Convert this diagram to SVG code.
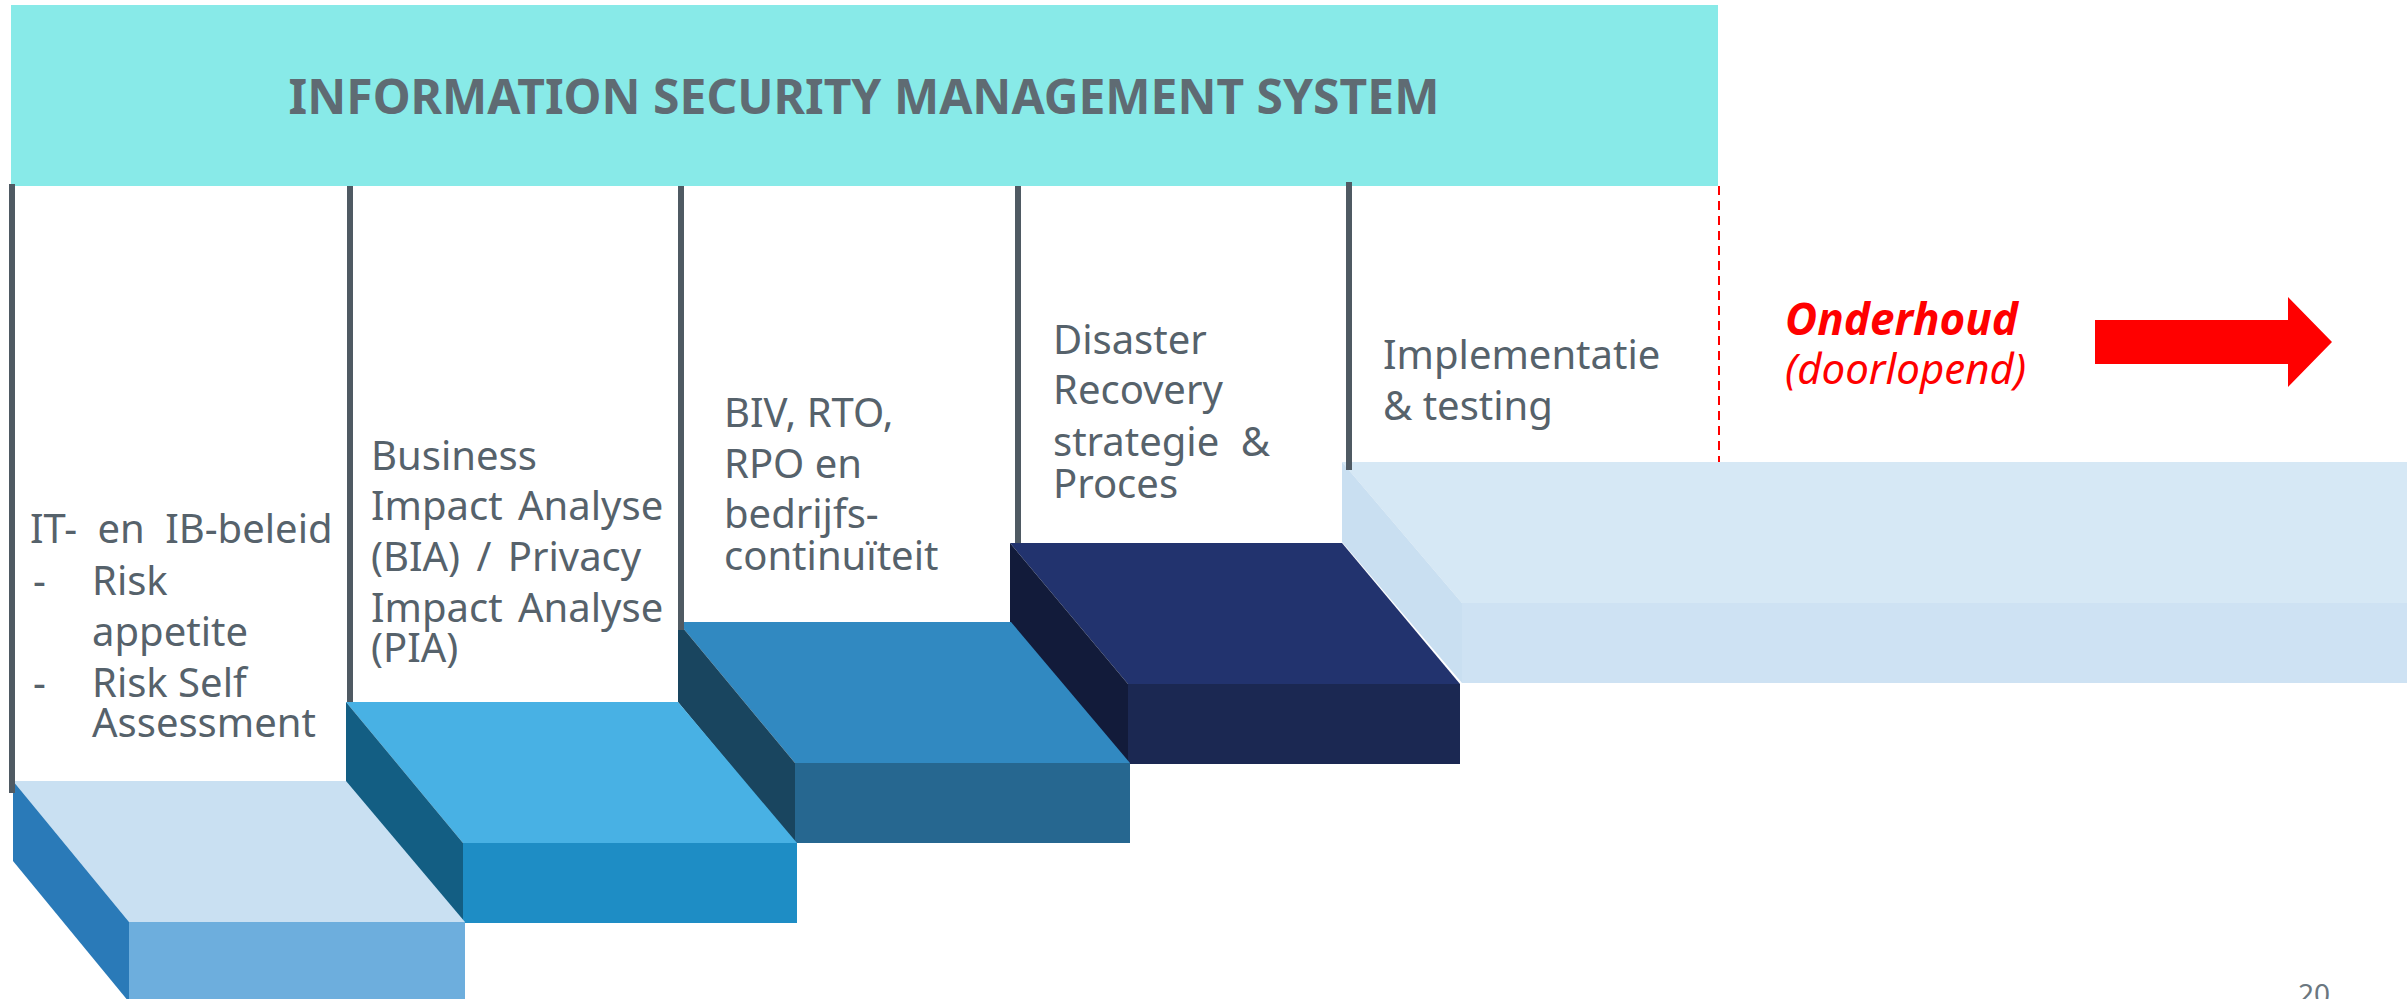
<svg xmlns="http://www.w3.org/2000/svg" width="2407" height="999" viewBox="0 0 2407 999">
<style>
.t{font-family:"Noto Sans","Open Sans","Liberation Sans",sans-serif;font-size:40px;fill:#56626B}
.h{font-family:"Noto Sans","Open Sans","Liberation Sans",sans-serif;font-size:48px;font-weight:bold;fill:#5F6B73}
.r{font-family:"Noto Sans","Open Sans","Liberation Sans",sans-serif;font-style:italic;fill:#FF0000}
.div{stroke:#4F5A63;stroke-width:6;fill:none}
</style>
<rect width="2407" height="999" fill="#FFFFFF"/>
<g id="header">
<rect x="11" y="5" width="1707" height="181" fill="#88EAE8"/>
<text class="h" x="864" y="114" text-anchor="middle">INFORMATION SECURITY MANAGEMENT SYSTEM</text>
</g>
<g id="step5">
<polygon points="1342,462 2407,462 2407,603 1462,603" fill="#D6E8F5"/>
<polygon points="1342,462 1462,603 1462,683 1342,542" fill="#C9DFF1"/>
<rect x="1462" y="603" width="945" height="80" fill="#CEE2F3"/>
<text class="t" x="1383" y="369">Implementatie</text>
<text class="t" x="1383" y="420">&amp; testing</text>
</g>
<g id="step4">
<polygon points="1010,543 1342,543 1460,684 1128,684" fill="#22336E"/>
<polygon points="1010,543 1128,684 1128,764 1010,623" fill="#121B3A"/>
<rect x="1128" y="684" width="332" height="80" fill="#1B2852"/>
<text class="t" x="1053" y="354">Disaster</text>
<text class="t" x="1053" y="404">Recovery</text>
<text class="t" x="1053" y="456" word-spacing="11">strategie &amp;</text>
<text class="t" x="1053" y="498">Proces</text>
</g>
<g id="step3">
<polygon points="678,622 1011,622 1130,763 795,763" fill="#3189C1"/>
<polygon points="678,622 795,763 795,843 678,702" fill="#19455F"/>
<rect x="795" y="763" width="335" height="80" fill="#266790"/>
<text class="t" x="724" y="427">BIV, RTO,</text>
<text class="t" x="724" y="478">RPO en</text>
<text class="t" x="724" y="528">bedrijfs-</text>
<text class="t" x="724" y="570">continuïteit</text>
</g>
<g id="step2">
<polygon points="346,702 678,702 797,843 463,843" fill="#48B1E4"/>
<polygon points="346,702 463,843 463,923 346,782" fill="#135E83"/>
<rect x="463" y="843" width="334" height="80" fill="#1E8DC5"/>
<text class="t" x="371" y="470">Business</text>
<text class="t" x="371" y="520" word-spacing="5">Impact Analyse</text>
<text class="t" x="371" y="571" word-spacing="6">(BIA) / Privacy</text>
<text class="t" x="371" y="622" word-spacing="5">Impact Analyse</text>
<text class="t" x="371" y="662">(PIA)</text>
</g>
<g id="step1">
<polygon points="13,781 346,781 465,922 129,922" fill="#C9E0F2"/>
<polygon points="13,781 129,922 129,1002 13,861" fill="#2A7AB8"/>
<rect x="129" y="922" width="336" height="80" fill="#6DAEDD"/>
<text class="t" x="30" y="543" word-spacing="10">IT- en IB-beleid</text>
<text class="t" x="33" y="595">-</text>
<text class="t" x="92" y="595">Risk</text>
<text class="t" x="92" y="646">appetite</text>
<text class="t" x="33" y="697">-</text>
<text class="t" x="92" y="697">Risk Self</text>
<text class="t" x="92" y="737">Assessment</text>
</g>
<g id="connectors">
<line class="div" x1="12" y1="184" x2="12" y2="793"/>
<line class="div" x1="350" y1="186" x2="350" y2="702"/>
<line class="div" x1="681" y1="186" x2="681" y2="630"/>
<line class="div" x1="1018" y1="186" x2="1018" y2="543"/>
<line class="div" x1="1349" y1="182" x2="1349" y2="470"/>
<line x1="1719" y1="186" x2="1719" y2="462" stroke="#FF0000" stroke-width="2" stroke-dasharray="9 6"/>
</g>
<g id="maintenance">
<text class="r" x="1785" y="335" font-size="44" font-weight="bold">Onderhoud</text>
<text class="r" x="1785" y="384" font-size="42">(doorlopend)</text>
<polygon points="2095,320 2288,320 2288,297 2332,342 2288,387 2288,364 2095,364" fill="#FF0000"/>
</g>
<text id="page" x="2298" y="1004" font-family="Noto Sans, sans-serif" font-size="28" fill="#6B7780">20</text>
</svg>
